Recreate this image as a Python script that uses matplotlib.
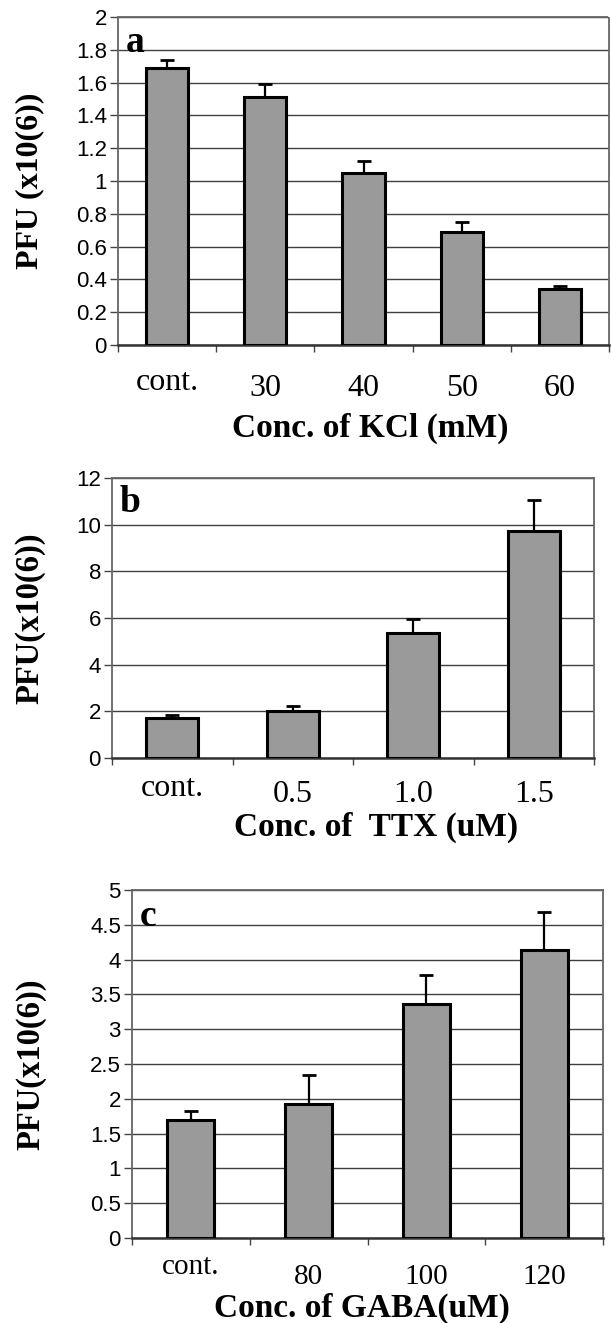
import numpy as np
import matplotlib
matplotlib.use('Agg')
import matplotlib.pyplot as plt

# ── DATA ────────────────────────────────────────────────
kcl_labels = ['cont.', '30', '40', '50', '60']
kcl_vals   = [1.69, 1.51, 1.05, 0.69, 0.34]
kcl_err    = [0.05, 0.08, 0.07, 0.06, 0.02]

ttx_labels = ['cont.', '0.5', '1.0', '1.5']
ttx_vals   = [1.7, 2.0, 5.35, 9.75]
ttx_err    = [0.15, 0.25, 0.62, 1.3]

gaba_labels = ['cont.', '80', '100', '120']
gaba_vals   = [1.7, 1.92, 3.36, 4.14]
gaba_err    = [0.12, 0.42, 0.42, 0.54]

W, H = 611, 1323
SERIF = 'Liberation Serif'
SANS  = 'Liberation Sans'
BAR_COLOR  = '#9a9a9a'
GRID_COLOR = '#404040'


def px_axes(left, right, top, bottom):
    return [left / W, 1 - bottom / H, (right - left) / W, (bottom - top) / H]


def panel(rect, labels, vals, err, ymax, ystep, letter, xlabel, ylabel,
          cont_off, num_off, xlabel_y, xlabel_x, ylabel_x, bar_w=0.43,
          xtick_size=23, ylabel_size=23.5):
    ax = fig.add_axes(rect)
    n = len(vals)
    x = np.arange(n)
    ax.set_xlim(-0.5, n - 0.5)
    ax.set_ylim(0, ymax)
    yt = np.arange(0, ymax + ystep / 2, ystep)
    ax.set_yticks(yt)
    ax.set_yticklabels([f'{v:g}' for v in yt], fontfamily=SANS, fontsize=16)
    ax.yaxis.grid(True, color=GRID_COLOR, lw=1.0)
    ax.set_axisbelow(True)

    ax.bar(x, vals, width=bar_w, color=BAR_COLOR, edgecolor='black',
           linewidth=2.2, zorder=3)
    ax.errorbar(x, vals, yerr=[np.zeros(n), err], fmt='none', ecolor='black',
                elinewidth=1.6, capsize=4.8, capthick=2, zorder=2)

    # category boundary ticks, excel style
    ax.set_xticks(np.arange(-0.5, n, 1.0))
    ax.set_xticklabels([])
    ax.tick_params(axis='x', length=5, width=1, color='#444444', direction='out')
    ax.tick_params(axis='y', length=6, width=1, color='#444444', pad=2)

    for s in ['top', 'right', 'left']:
        ax.spines[s].set_linestyle((0, (1, 1)))
        ax.spines[s].set_color('#666666')
        ax.spines[s].set_linewidth(1.3)
    ax.spines['bottom'].set_color('#333333')
    ax.spines['bottom'].set_linewidth(1.8)

    for xi, lab in zip(x, labels):
        off = cont_off if lab == 'cont.' else num_off
        ax.annotate(lab, xy=(xi, 0), xycoords=('data', 'axes fraction'),
                    xytext=(0, -off * 0.72), textcoords='offset points',
                    ha='center', va='center', fontfamily=SERIF,
                    fontsize=xtick_size)

    ax.text(0.016, 0.975, letter, transform=ax.transAxes, ha='left', va='top',
            fontfamily=SERIF, fontweight='bold', fontsize=27)

    fig.text(xlabel_x / W, 1 - xlabel_y / H, xlabel, ha='center', va='center',
             fontfamily=SERIF, fontweight='bold', fontsize=24)
    pos = ax.get_position()
    fig.text(ylabel_x / W, pos.y0 + pos.height / 2, ylabel, rotation=90,
             ha='center', va='center', fontfamily=SERIF, fontweight='bold',
             fontsize=ylabel_size)
    return ax


fig = plt.figure(figsize=(W / 100, H / 100), dpi=100)
fig.patch.set_facecolor('white')

panel(px_axes(118, 609, 17, 345), kcl_labels, kcl_vals, kcl_err, 2, 0.2, 'a',
      'Conc. of KCl (mM)', 'PFU (x10(6))',
      cont_off=38, num_off=43, xlabel_y=428, xlabel_x=370, ylabel_x=30,
      ylabel_size=23)

panel(px_axes(112, 594, 478, 758), ttx_labels, ttx_vals, ttx_err, 12, 2, 'b',
      'Conc. of  TTX (uM)', 'PFU(x10(6))',
      cont_off=31, num_off=37, xlabel_y=827, xlabel_x=376, ylabel_x=30)

panel(px_axes(132, 603, 890, 1238), gaba_labels, gaba_vals, gaba_err, 5, 0.5, 'c',
      'Conc. of GABA(uM)', 'PFU(x10(6))',
      cont_off=29, num_off=39, xlabel_y=1308, xlabel_x=362, ylabel_x=31,
      bar_w=0.40, xtick_size=21)

plt.savefig('out.png', dpi=100, facecolor='white')
